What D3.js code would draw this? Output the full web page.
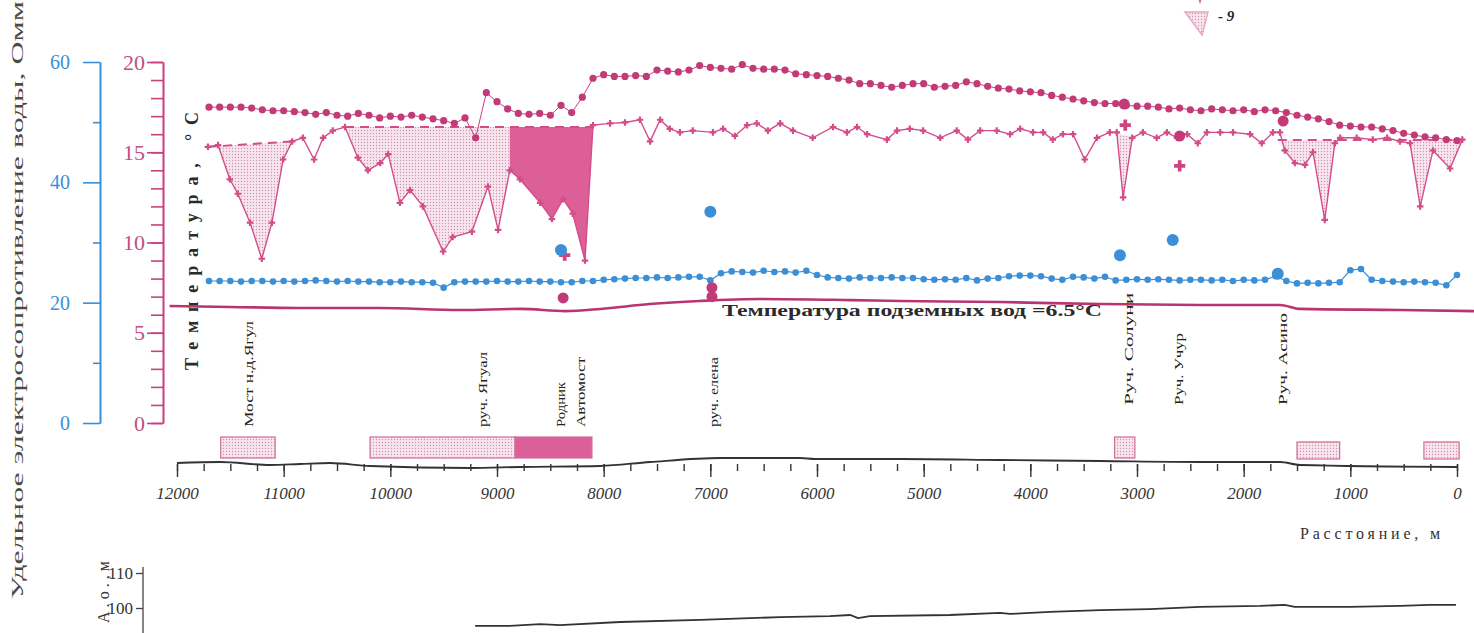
<!DOCTYPE html>
<html><head><meta charset="utf-8">
<script src="https://cdn.jsdelivr.net/npm/d3@7"></script>
<style>
body{margin:0;background:#fff;}
svg{display:block;font-family:"Liberation Serif","DejaVu Serif",serif;}
</style>
</head><body>
<svg id="c" width="1474" height="633"></svg>
<script>
// ---------- DATA ----------
const stations = [11700,11600,11500,11400,11300,11200,11100,11000,10900,10800,
10700,10600,10500,10400,10300,10200,10100,10000,9900,9800,
9700,9600,9500,9400,9300,9200,9100,9000,8900,8800,
8700,8600,8500,8400,8300,8200,8100,8000,7900,7800,
7700,7600,7500,7400,7300,7200,7100,7000,6900,6800,
6700,6600,6500,6400,6300,6200,6100,6000,5900,5800,
5700,5600,5500,5400,5300,5200,5100,5000,4900,4800,
4700,4600,4500,4400,4300,4200,4100,4000,3900,3800,
3700,3600,3500,3400,3300,3200,3100,3000,2900,2800,
2700,2600,2500,2400,2300,2200,2100,2000,1900,1800,
1700,1600,1500,1400,1300,1200,1100,1000,900,800,
700,600,500,400,300,200,100,0];
// upper dotted temperature series, °C
const airTemp = [17.5,17.5,17.5,17.5,17.45,17.35,17.3,17.3,17.25,17.2,
17.1,17.2,17.05,17.0,17.15,17.05,16.9,17.0,16.95,17.05,
16.95,16.85,16.75,16.6,16.9,15.8,18.3,17.8,17.4,17.15,
17.1,17.15,17.05,17.6,17.2,18.05,19.1,19.3,19.2,19.2,
19.25,19.2,19.55,19.5,19.45,19.55,19.8,19.7,19.65,19.6,
19.85,19.65,19.6,19.6,19.55,19.35,19.3,19.25,19.2,19.1,
19.0,18.8,18.8,18.7,18.6,18.7,18.8,18.8,18.6,18.65,
18.7,18.9,18.8,18.65,18.55,18.5,18.4,18.35,18.3,18.15,
18.05,17.95,17.85,17.75,17.7,17.7,17.6,17.55,17.55,17.5,
17.4,17.45,17.35,17.3,17.4,17.35,17.3,17.35,17.25,17.35,
17.3,17.2,17.05,16.95,16.85,16.7,16.5,16.45,16.4,16.4,
16.3,16.2,16.05,15.95,15.85,15.8,15.7,15.65];
// specific electrical resistivity of water, Ohm·m
const resistivity = [23.6,23.6,23.6,23.5,23.6,23.6,23.5,23.6,23.5,23.6,
23.7,23.6,23.5,23.6,23.5,23.5,23.4,23.4,23.5,23.4,
23.4,23.3,22.5,23.4,23.5,23.5,23.5,23.6,23.5,23.5,
23.6,23.5,23.5,23.4,23.4,23.6,23.6,23.8,23.9,24.0,
24.1,24.1,24.2,24.1,24.2,24.3,24.3,23.7,24.9,25.2,
25.1,25.0,25.3,25.1,25.2,25.0,25.3,24.6,24.2,24.1,
24.0,24.2,24.1,24.1,24.2,24.1,24.1,23.9,23.8,23.9,
23.8,24.1,23.7,24.0,24.1,24.4,24.5,24.5,24.4,24.0,
23.8,24.3,24.2,24.0,24.3,23.7,23.8,23.9,23.8,23.9,
23.8,23.7,23.8,23.8,23.7,23.8,23.6,23.8,23.7,23.8,
24.4,23.6,23.2,23.3,23.2,23.3,23.4,25.4,25.6,23.8,
23.6,23.5,23.4,23.5,23.4,23.3,22.9,24.6];
// river water temperature (crosses)
const riverDist = [11710,11615,11505,11430,11315,11205,11110,11005,10920,10820,
10715,10630,10540,10425,10305,10210,10095,10020,9910,9815,
9695,9505,9415,9235,9085,8990,8880,8785,8595,8485,
8380,8290,8175,8100,7940,7800,7660,7565,7470,7380,
7285,7165,6975,6880,6770,6655,6565,6460,6345,6225,
6040,5850,5720,5625,5530,5345,5250,5130,5005,4845,
4690,4585,4470,4315,4190,4095,3975,3880,3790,3695,
3600,3490,3375,3255,3190,3130,3045,2945,2815,2720,
2625,2530,2430,2345,2220,2100,1940,1830,1725,1660,
1615,1520,1425,1350,1240,1145,1095,940,790,655,
535,440,345,225,65,-50];
const riverTemp = [15.3,15.4,13.5,12.7,11.1,9.1,11.1,14.6,15.6,15.8,
14.6,15.8,16.2,16.4,14.7,14.0,14.4,14.9,12.2,12.9,
12.0,9.5,10.3,10.6,13.1,10.7,14.0,13.5,12.2,11.3,
12.4,11.6,9.0,16.5,16.6,16.65,16.8,15.6,16.8,16.3,
16.1,16.2,16.1,16.3,15.9,16.5,16.6,16.2,16.6,16.2,
15.8,16.4,16.1,16.4,16.0,15.7,16.2,16.3,16.2,15.8,
16.2,15.7,16.2,16.2,16.0,16.3,16.1,16.1,15.7,16.0,
16.0,14.6,15.8,16.1,16.1,12.5,15.8,16.1,15.8,16.1,
15.8,16.0,15.5,16.1,16.1,16.1,16.0,15.5,16.1,16.1,
15.1,14.4,14.3,15.0,11.25,15.5,15.8,15.8,15.7,15.8,
15.6,15.5,12.0,15.1,14.1,15.7];
// background (dashed) river temperature segments: [fromDist, fromT, toDist, toT]
const backgroundSegs = [[11710,15.3,10920,15.6],[10425,16.4,8100,16.4],[1680,15.68,-50,15.68]];
// cooled zones: [fromDist, toDist, topT at from, topT at to, kind]
const coolZones = [[11710,10920,15.3,15.6,"light"],[10425,8880,16.4,16.4,"light"],[8880,8100,16.4,16.4,"dark"],
  [3190,3045,16.1,15.8,"light"],[1640,1100,15.68,15.68,"light"],[460,-50,15.68,15.68,"light"]];
// groundwater temperature line
const gwDist = [12070,11500,10850,10100,9350,8780,8360,8030,7570,7100,6530,5690,5220,4280,3350,2410,1660,1470,530,-160];
const gwTemp = [6.48,6.43,6.37,6.37,6.26,6.32,6.2,6.32,6.59,6.76,6.87,6.81,6.76,6.7,6.59,6.54,6.54,6.32,6.26,6.2];
// single measurements (springs, tributaries)
const springTDist = [3120,2600,1630,8380,6985,6985];
const springT = [17.67,15.9,16.73,6.93,7.0,7.5];
const springCrossDist = [3110,2600,8365];
const springCrossT = [16.5,14.24,9.3];
const springRDist = [7000,3160,2665,8400,1680];
const springR = [35.1,27.9,30.4,28.75,24.8];
// names along the profile
const placeNames = ["Мост н.д.Ягул","руч. Ягуал","Родник","Автомост","руч. елена","Руч. Солуни","Руч. Учур","Руч. Асино"];
const placeDist = [11330,9140,8410,8220,6975,3084,2616,1641];
// zones drawn on the distance axis: [from, to, kind]
const axisZones = [[11590,11080,"light"],[10190,8830,"light"],[8830,8110,"dark"],[3210,3020,"light"],[1500,1100,"light"],[310,-20,"light"]];
// relief line that forms the distance axis (relative units)
const reliefDist = [12000,11597,11128,10847,10566,10191,9253,8784,8034,7566,6909,6159,6019,5222,4284,3347,2409,1659,1472,0];
const reliefVal = [3.5,4,2.5,3,3.5,2,1,1.5,2,4,6,6,5.5,5.5,5,4.5,4,4,2.5,1.5];
// absolute elevation profile, m
const altDist = [9205,8880,8595,8410,7845,7095,6345,5880,5690,5615,5505,4755,4285,4190,3815,3345,2880,2410,1845,1615,1520,1005,535,255,10];
const altVal = [94.9,94.9,95.4,95.1,96.0,96.6,97.4,97.7,98.0,97.1,97.7,98.0,98.6,98.3,98.9,99.4,99.7,100.3,100.6,100.9,100.3,100.3,100.6,100.9,100.9];
const distTicks = [12000,11000,10000,9000,8000,7000,6000,5000,4000,3000,2000,1000,0];
const resTicks = [0,20,40,60];
const tempTicks = [0,5,10,15,20];
const altTicks = [100,110];

// ---------- DRAWING ----------
const FONT = "Liberation Serif, DejaVu Serif, serif";
const PINK = "#c8417e", PINK2 = "#d24d8a", BLUE = "#3a8fd6", DARK = "#2b2b2b";
const svg = d3.select("#c").attr("font-family", FONT);
const defs = svg.append("defs");
const pat = defs.append("pattern").attr("id","dots").attr("width",3).attr("height",3).attr("patternUnits","userSpaceOnUse");
pat.append("rect").attr("width",3).attr("height",3).attr("fill","#f8e6ee");
pat.append("circle").attr("cx",1.5).attr("cy",1.5).attr("r",0.65).attr("fill","#cf93b0");

const x = d3.scaleLinear().domain([12000,0]).range([177,1457]);
const yT = d3.scaleLinear().domain([0,20]).range([423,62]);
const yR = d3.scaleLinear().domain([0,60]).range([423,62]);
const yRel = d3.scaleLinear().domain([0,10]).range([470,450]);
const yA = d3.scaleLinear().domain([100,110]).range([608,573]);

// left title
svg.append("text").attr("transform","translate(23,300) rotate(-90)").attr("text-anchor","middle")
  .attr("font-size",17).attr("fill","#4a4a4a").attr("textLength",598).attr("lengthAdjust","spacingAndGlyphs")
  .text("Удельное электросопротивление воды, Омм");

// resistivity axis
const gR = svg.append("g").attr("transform","translate(100,0)");
gR.call(d3.axisLeft(yR).tickValues(resTicks).tickSize(17).tickSizeOuter(0).tickPadding(13));
gR.append("g").call(d3.axisLeft(yR).tickValues([10,30,50]).tickSize(7).tickSizeOuter(0).tickFormat(""));
gR.selectAll("g").attr("font-family",FONT);
gR.attr("font-family",FONT);
gR.selectAll("path,line").attr("stroke",BLUE).attr("stroke-width",1.6);
gR.selectAll("text").attr("fill",BLUE).attr("font-size",20).attr("font-family",FONT);

// temperature axis
const gT = svg.append("g").attr("transform","translate(163,0)");
gT.call(d3.axisLeft(yT).tickValues(tempTicks).tickSize(16).tickSizeOuter(0).tickPadding(2));
gT.append("g").call(d3.axisLeft(yT).tickValues(d3.range(0,21,1)).tickSize(12).tickSizeOuter(0).tickFormat(""));
gT.attr("font-family",FONT);
gT.selectAll("path,line").attr("stroke",PINK).attr("stroke-width",1.6);
gT.selectAll("text").attr("fill","#c0507f").attr("font-size",22).attr("font-family",FONT);

svg.append("text").attr("transform","translate(198,241) rotate(-90)").attr("text-anchor","middle")
  .attr("font-size",18).attr("font-weight","bold").attr("fill",DARK)
  .attr("textLength",258).attr("lengthAdjust","spacing").text("Температура,  °С");

// cooled zones
coolZones.forEach(z=>{
  const pts = [[z[0],z[2]]];
  riverDist.forEach((d,i)=>{ if(d<=z[0] && d>=z[1]) pts.push([d,riverTemp[i]]); });
  pts.push([z[1],z[3]]);
  svg.append("path").attr("d", d3.line().x(p=>x(p[0])).y(p=>yT(p[1]))(pts)+"Z")
    .attr("fill", z[4]==="dark" ? "#dc5f98" : "url(#dots)").attr("stroke","none");
});
// dashed background
backgroundSegs.forEach(s=>{
  svg.append("line").attr("x1",x(s[0])).attr("y1",yT(s[1])).attr("x2",x(s[2])).attr("y2",yT(s[3]))
    .attr("stroke",PINK2).attr("stroke-width",2).attr("stroke-dasharray","9,6");
});
// river temperature
svg.append("path").datum(riverDist.map((d,i)=>[d,riverTemp[i]]))
  .attr("d", d3.line().x(p=>x(p[0])).y(p=>yT(p[1]))).attr("fill","none").attr("stroke",PINK2).attr("stroke-width",1.4);
svg.append("g").selectAll("path").data(riverDist.map((d,i)=>[d,riverTemp[i]])).join("path")
  .attr("transform",p=>`translate(${x(p[0])},${yT(p[1])})`).attr("d",d3.symbol(d3.symbolCross,24)()).attr("fill",PINK2);

// upper temperature series
const airPts = stations.map((d,i)=>[d,airTemp[i]]);
svg.append("path").datum(airPts).attr("d", d3.line().x(p=>x(p[0])).y(p=>yT(p[1])))
  .attr("fill","none").attr("stroke",PINK).attr("stroke-width",1);
svg.append("g").selectAll("circle").data(airPts).join("circle")
  .attr("cx",p=>x(p[0])).attr("cy",p=>yT(p[1])).attr("r",3.6).attr("fill","#c23a77");

// resistivity series
const resPts = stations.map((d,i)=>[d,resistivity[i]]);
svg.append("path").datum(resPts).attr("d", d3.line().x(p=>x(p[0])).y(p=>yR(p[1])))
  .attr("fill","none").attr("stroke",BLUE).attr("stroke-width",1.2);
svg.append("g").selectAll("circle").data(resPts).join("circle")
  .attr("cx",p=>x(p[0])).attr("cy",p=>yR(p[1])).attr("r",3.3).attr("fill",BLUE);

// groundwater temperature
svg.append("path").datum(gwDist.map((d,i)=>[d,gwTemp[i]]))
  .attr("d", d3.line().x(p=>x(p[0])).y(p=>yT(p[1])).curve(d3.curveMonotoneX))
  .attr("fill","none").attr("stroke","#b8356f").attr("stroke-width",2.6);
svg.append("text").attr("x",722).attr("y",316).attr("font-size",16).attr("font-weight","bold").attr("fill",DARK)
  .attr("textLength",380).attr("lengthAdjust","spacingAndGlyphs").text("Температура подземных вод =6.5°С");

// single measurements
svg.append("g").selectAll("circle").data(springTDist.map((d,i)=>[d,springT[i]])).join("circle")
  .attr("cx",p=>x(p[0])).attr("cy",p=>yT(p[1])).attr("r",5.5).attr("fill","#c43a78");
svg.append("g").selectAll("path").data(springCrossDist.map((d,i)=>[d,springCrossT[i]])).join("path")
  .attr("transform",p=>`translate(${x(p[0])},${yT(p[1])})`).attr("d",d3.symbol(d3.symbolCross,70)()).attr("fill","#cc4582");
svg.append("g").selectAll("circle").data(springRDist.map((d,i)=>[d,springR[i]])).join("circle")
  .attr("cx",p=>x(p[0])).attr("cy",p=>yR(p[1])).attr("r",6).attr("fill",BLUE);

// place names
const placeLen = [106,75,45,70,70,112,72,92];
svg.append("g").selectAll("text").data(placeNames).join("text")
  .attr("transform",(t,i)=>`translate(${x(placeDist[i])+5},${i<5?427:405}) rotate(-90)`)
  .attr("font-size",13).attr("fill","#222").attr("textLength",(t,i)=>placeLen[i])
  .attr("lengthAdjust","spacingAndGlyphs").text(t=>t);

// axis zones
axisZones.forEach(z=>{
  svg.append("rect").attr("x",x(z[0])).attr("width",x(z[1])-x(z[0])).attr("y",z[0]<2000?442:437)
    .attr("height",z[0]<2000?17:21)
    .attr("fill", z[2]==="dark" ? "#dc5f98" : "url(#dots)").attr("stroke","#d06b97").attr("stroke-width",1.2);
});

// distance axis
const gX = svg.append("g").attr("transform","translate(0,464)");
gX.call(d3.axisBottom(x).tickValues(d3.range(0,12001,250)).tickSize(7).tickFormat(""));
gX.append("g").call(d3.axisBottom(x).tickValues(distTicks).tickSize(13).tickPadding(10).tickFormat(d3.format("d")));
gX.attr("font-family",FONT);
gX.selectAll(".domain").remove();
gX.selectAll("line").attr("stroke","#333").attr("stroke-width",1.4);
gX.selectAll("text").attr("fill","#333").attr("font-size",17).attr("font-style","italic").attr("font-family",FONT);
svg.append("path").datum(reliefDist.map((d,i)=>[d,reliefVal[i]]))
  .attr("d", d3.line().x(p=>x(p[0])).y(p=>yRel(p[1])).curve(d3.curveMonotoneX))
  .attr("fill","none").attr("stroke","#333").attr("stroke-width",1.8);
svg.append("text").attr("x",1300).attr("y",539).attr("font-size",16).attr("fill","#333")
  .attr("textLength",140).attr("lengthAdjust","spacing").text("Расстояние, м");

// elevation inset
const gA = svg.append("g").attr("transform","translate(143,0)");
gA.call(d3.axisLeft(yA).tickValues(altTicks).tickSize(7).tickSizeOuter(0).tickPadding(3));
gA.attr("font-family",FONT);
gA.select(".domain").attr("d","M0,567V633");
gA.selectAll("path,line").attr("stroke","#444").attr("stroke-width",1.3);
gA.selectAll("text").attr("fill","#333").attr("font-size",17).attr("font-family",FONT);
svg.append("text").attr("transform","translate(109,592) rotate(-90)").attr("text-anchor","middle")
  .attr("font-size",16).attr("fill","#333").attr("textLength",62).attr("lengthAdjust","spacing").text("А.о.,м");
svg.append("path").datum(altDist.map((d,i)=>[d,altVal[i]]))
  .attr("d", d3.line().x(p=>x(p[0])).y(p=>yA(p[1]))).attr("fill","none").attr("stroke","#333").attr("stroke-width",1.8);

// legend fragment (top right)
svg.append("path").attr("d","M1197,-4L1203,-4L1200,4Z").attr("fill","#e0609a");
svg.append("path").attr("d","M1185,12L1208,12L1202,35Z").attr("fill","url(#dots)").attr("stroke","#e3a9c3").attr("stroke-width",1.5);
svg.append("text").attr("x",1218).attr("y",21).attr("font-size",15).attr("font-weight","bold").attr("font-style","italic")
  .attr("fill","#222").text("- 9");
</script>
</body></html>
